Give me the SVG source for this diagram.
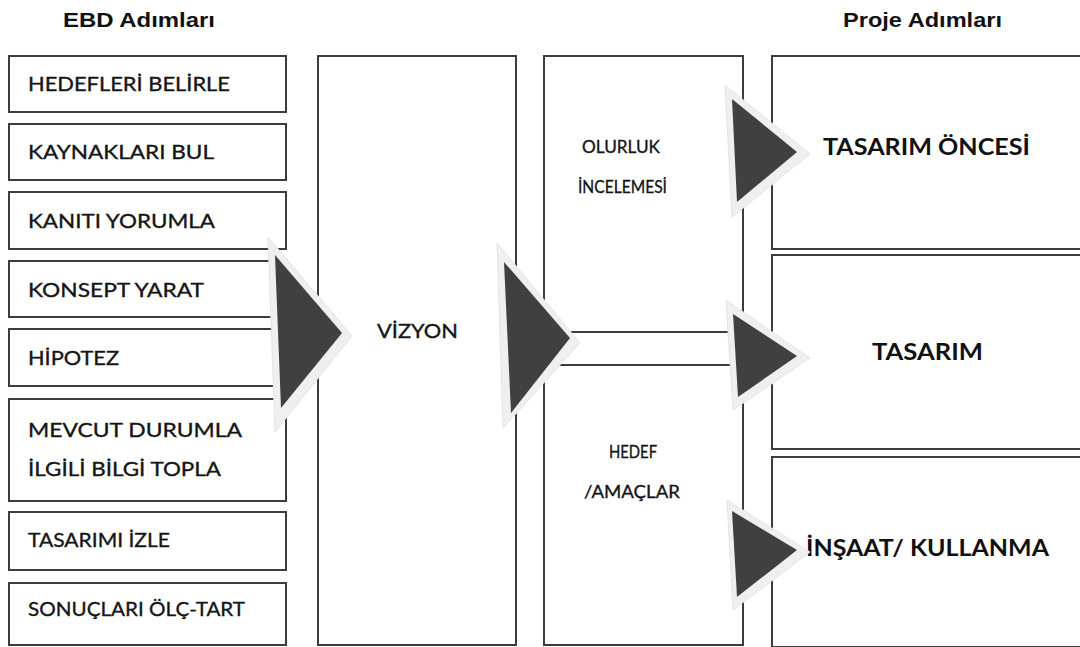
<svg xmlns="http://www.w3.org/2000/svg" width="1080" height="647" viewBox="0 0 1080 647">
<style>
.box{fill:#fff;stroke:#3c3c3c;stroke-width:2}
.t{font-family:Lato,"Open Sans","Liberation Sans",sans-serif;font-weight:400;font-size:20px;fill:#151515;stroke:#151515;stroke-width:0.35}
.m{font-size:18px}
.tb{font-family:Lato,"Open Sans","Liberation Sans",sans-serif;font-weight:700;font-size:23px;fill:#111}
.h{font-family:"Liberation Sans",Arial,sans-serif;font-weight:700;font-size:21px;fill:#111}
.glow{fill:#efefef;stroke:#e4e4e4;stroke-width:1}
.arr{fill:#404040}
</style>
<rect width="1080" height="647" fill="#fff"/>
<text class="h" x="63" y="27" textLength="152" lengthAdjust="spacingAndGlyphs">EBD Adımları</text>
<text class="h" x="843" y="27" textLength="159" lengthAdjust="spacingAndGlyphs">Proje Adımları</text>

<g id="ebd1"><rect class="box" x="9" y="56" width="277" height="56"/><text class="t" x="28" y="91" textLength="202" lengthAdjust="spacingAndGlyphs">HEDEFLERİ BELİRLE</text></g>
<g id="ebd2"><rect class="box" x="9" y="124" width="277" height="56"/><text class="t" x="28" y="159" textLength="186" lengthAdjust="spacingAndGlyphs">KAYNAKLARI BUL</text></g>
<g id="ebd3"><rect class="box" x="9" y="192" width="277" height="57"/><text class="t" x="28" y="228" textLength="187" lengthAdjust="spacingAndGlyphs">KANITI YORUMLA</text></g>
<g id="ebd4"><rect class="box" x="9" y="261" width="277" height="56"/><text class="t" x="28" y="297" textLength="176" lengthAdjust="spacingAndGlyphs">KONSEPT YARAT</text></g>
<g id="ebd5"><rect class="box" x="9" y="329" width="277" height="57"/><text class="t" x="28" y="365" textLength="91" lengthAdjust="spacingAndGlyphs">HİPOTEZ</text></g>
<g id="ebd6"><rect class="box" x="9" y="399" width="277" height="102"/><text class="t" x="28" y="437" textLength="214" lengthAdjust="spacingAndGlyphs">MEVCUT DURUMLA</text><text class="t" x="28" y="476" textLength="193" lengthAdjust="spacingAndGlyphs">İLGİLİ BİLGİ TOPLA</text></g>
<g id="ebd7"><rect class="box" x="9" y="512" width="277" height="58"/><text class="t" x="28" y="547" textLength="142" lengthAdjust="spacingAndGlyphs">TASARIMI İZLE</text></g>
<g id="ebd8"><rect class="box" x="9" y="583" width="277" height="62"/><text class="t" x="28" y="616" textLength="217" lengthAdjust="spacingAndGlyphs">SONUÇLARI ÖLÇ-TART</text></g>

<g id="vizyon"><rect class="box" x="318" y="56" width="198" height="589"/><text class="t" x="377" y="338" textLength="81" lengthAdjust="spacingAndGlyphs">VİZYON</text></g>
<g id="olurluk"><rect class="box" x="544" y="56" width="199" height="276"/><text class="t m" x="582" y="153" textLength="78" lengthAdjust="spacingAndGlyphs">OLURLUK</text><text class="t m" x="578" y="193" textLength="89" lengthAdjust="spacingAndGlyphs">İNCELEMESİ</text></g>
<g id="hedef"><rect class="box" x="544" y="365" width="199" height="280"/><text class="t m" x="609" y="458" textLength="48" lengthAdjust="spacingAndGlyphs">HEDEF</text><text class="t m" x="584" y="498" textLength="96" lengthAdjust="spacingAndGlyphs">/AMAÇLAR</text></g>

<g id="tasarim-oncesi"><rect class="box" x="772" y="56" width="312" height="193"/><text class="tb" x="823" y="155" textLength="207" lengthAdjust="spacingAndGlyphs">TASARIM ÖNCESİ</text></g>
<g id="tasarim"><rect class="box" x="772" y="255" width="312" height="194"/><text class="tb" x="872" y="360" textLength="111" lengthAdjust="spacingAndGlyphs">TASARIM</text></g>
<g id="insaat"><rect class="box" x="772" y="457" width="312" height="190"/><text class="tb" x="806" y="556" textLength="243" lengthAdjust="spacingAndGlyphs">İNŞAAT/ KULLANMA</text></g>

<g id="connectors">
<polygon class="glow" points="268,237 352,336 275,432"/>
<polygon class="arr" points="275,255 342,333 281,408"/>
<polygon class="glow" points="497,243 580,343 503,428"/>
<polygon class="arr" points="504,262 570,338 511,413"/>
<polygon class="glow" points="725,85 810,154 732,217"/>
<polygon class="arr" points="732,99 797,152 737,202"/>
<polygon class="glow" points="726,300 810,358 733,410"/>
<polygon class="arr" points="733,314 797,356 738,397"/>
<polygon class="glow" points="727,500 810,552 733,610"/>
<polygon class="arr" points="732,511 797,550 737,597"/>
</g>
</svg>
